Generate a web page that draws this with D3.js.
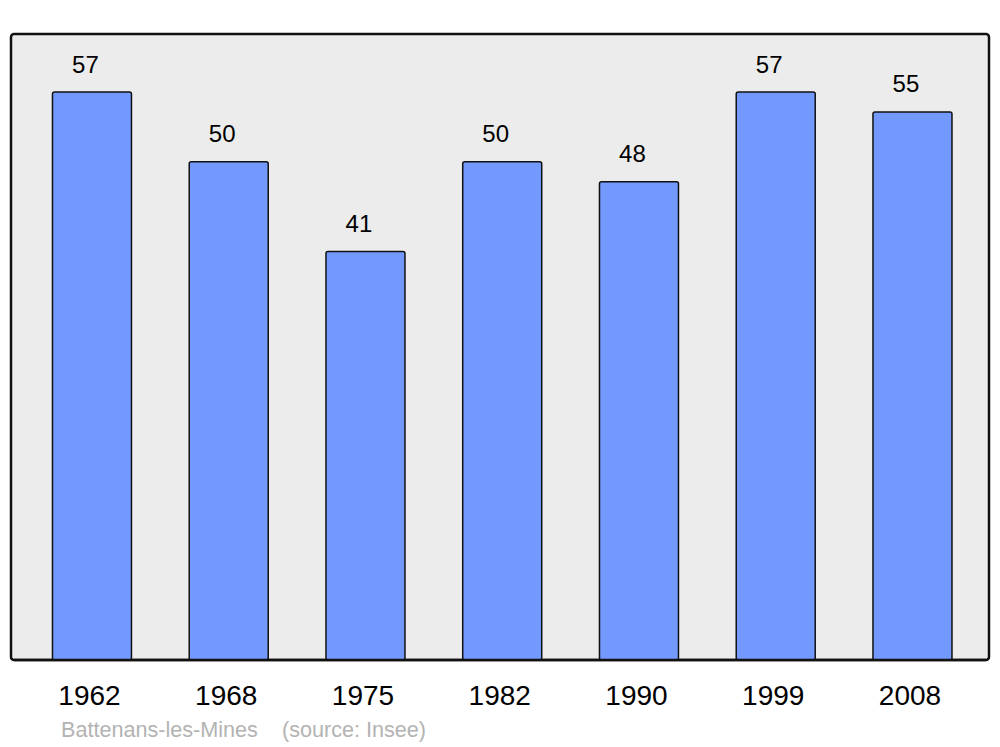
<!DOCTYPE html>
<html>
<head>
<meta charset="utf-8">
<script src="https://cdn.jsdelivr.net/npm/d3@7/dist/d3.min.js"></script>
<style>
  html, body { margin: 0; padding: 0; background: #ffffff; }
  svg { display: block; font-family: "Liberation Sans", Arial, sans-serif; }
</style>
</head>
<body>
<svg id="chart" width="1000" height="747"></svg>
<script>
const years = ["1962", "1968", "1975", "1982", "1990", "1999", "2008"];
const population = [57, 50, 41, 50, 48, 57, 55];
const placeName = "Battenans-les-Mines";
const sourceText = "(source: Insee)";

const svg = d3.select("#chart");

const panel = { left: 11, top: 34, right: 989, bottom: 660 };

svg.append("rect")
  .attr("x", panel.left).attr("y", panel.top)
  .attr("width", panel.right - panel.left)
  .attr("height", panel.bottom - panel.top)
  .attr("rx", 3).attr("ry", 3)
  .attr("fill", "#ececec")
  .attr("stroke", "#111")
  .attr("stroke-width", 2.5);

const x = d3.scaleBand()
  .domain(years)
  .range([23.6, 980.85])
  .paddingInner(0.4223)
  .paddingOuter(0.21115);

const y = d3.scaleLinear()
  .domain([0, 57])
  .range([panel.bottom, 92]);

const data = years.map((yr, i) => ({ year: yr, value: population[i] }));

svg.append("g").selectAll("rect")
  .data(data)
  .join("rect")
  .attr("x", d => x(d.year))
  .attr("y", d => y(d.value))
  .attr("width", x.bandwidth())
  .attr("height", d => y(0) - y(d.value))
  .attr("rx", 2).attr("ry", 2)
  .attr("fill", "#7399ff")
  .attr("stroke", "#111")
  .attr("stroke-width", 1.5);

// redraw panel bottom line over bars
svg.append("line")
  .attr("x1", panel.left + 3).attr("x2", panel.right - 3)
  .attr("y1", panel.bottom).attr("y2", panel.bottom)
  .attr("stroke", "#111").attr("stroke-width", 2.5);

svg.append("g").selectAll("text")
  .data(data)
  .join("text")
  .attr("x", d => x(d.year) + x.bandwidth() / 2 - 6.5)
  .attr("y", d => y(d.value) - 19.5)
  .attr("text-anchor", "middle")
  .attr("font-size", 24)
  .attr("fill", "#000")
  .text(d => d.value);

svg.append("g").selectAll("text")
  .data(data)
  .join("text")
  .attr("x", d => x(d.year) + x.bandwidth() / 2 - 2.5)
  .attr("y", 705)
  .attr("text-anchor", "middle")
  .attr("font-size", 28)
  .attr("fill", "#000")
  .text(d => d.year);

svg.append("text")
  .attr("x", 61).attr("y", 737)
  .attr("font-size", 21.6)
  .attr("fill", "#b3b3b3")
  .text(placeName);

svg.append("text")
  .attr("x", 282).attr("y", 737)
  .attr("font-size", 21.6)
  .attr("fill", "#b3b3b3")
  .text(sourceText);
</script>
</body>
</html>
